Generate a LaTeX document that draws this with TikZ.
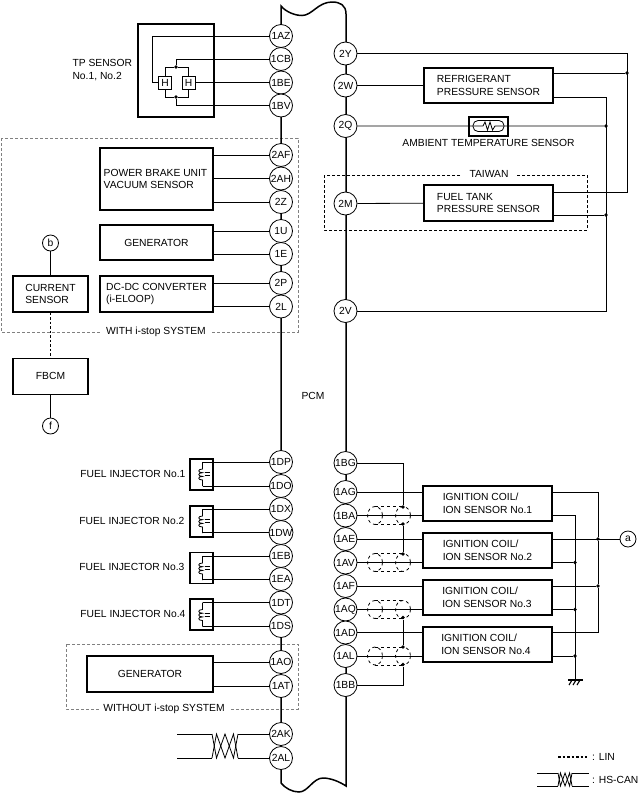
\documentclass[tikz,border=0pt]{standalone}
\usepackage{fontspec}
\setmainfont{Liberation Sans}
\usetikzlibrary{arrows,positioning}

\tikzset{
  every node/.style={font=\fontsize{10.3}{12.5}\selectfont},
  wire/.style={line width=0.8pt},
  pcmline/.style={line width=1.5pt},
  conn/.style={draw, circle, fill=white, line width=0.8pt, minimum size=23pt, inner sep=0pt},
  small_conn/.style={draw, circle, fill=white, line width=0.8pt, minimum size=16pt, inner sep=0pt},
  unit/.style={draw, fill=white, line width=1.3pt, inner sep=0pt, align=left},
  hall/.style={draw, fill=white, line width=0.9pt, minimum width=13pt, minimum height=13pt, inner sep=0pt},
  junction/.style={circle, fill=black, minimum size=3.6pt, inner sep=0pt},
  option_box/.style={line width=0.7pt, dash pattern=on 3pt off 2pt},
  option_label/.style={fill=white, inner xsep=4pt, inner ysep=1pt},
  lin/.style={line width=1.8pt, dash pattern=on 2.5pt off 2pt},
  coil/.pic={
    \draw[wire] (0,0) -- (0,7) .. controls (-5,7) and (-5,10.7) .. (0,10.7)
      .. controls (-5,10.7) and (-5,14.4) .. (0,14.4)
      .. controls (-5,14.4) and (-5,18) .. (0,18) -- (0,24);
    \draw[wire] (2,10.5) -- (7,10.5) (2,13.5) -- (7,13.5);
  },
  shield/.pic={
    \draw[wire, dashed] (0,0) ellipse (7.5 and 9);
    \draw[wire, dashed] (-28,0) ellipse (7.5 and 9);
    \draw[wire, dashed] (-28,-9) -- (0,-9) (-28,9) -- (0,9);
  },
  twist/.pic={
    \draw[wire] (0,0) -- (4.5,24) -- (13,0) -- (21.5,24) -- (26,0);
    \draw[wire] (0,24) -- (4.5,0) -- (13,24) -- (21.5,0) -- (26,24);
  },
  earth/.pic={
    \draw[line width=1.2pt] (-7,0) -- (8,0);
    \draw[line width=1.1pt] (-3,0) -- (-6,5) (1,0) -- (-2,5) (5,0) -- (2,5);
  }
}

\begin{document}
\begin{tikzpicture}[x=1pt,y=-1pt]
    \useasboundingbox (0,0) rectangle (638,793);

    % optional equipment frames
    \draw[option_box, gray] (1,138) rectangle (298,332);
    \node[option_label] at (156,332) (with_label) {WITH i-stop SYSTEM};
    \draw[option_box, gray] (66,644) rectangle (298,709);
    \node[option_label] at (164,709) (without_label) {WITHOUT i-stop SYSTEM};
    \draw[option_box] (324,175) rectangle (587,230);
    \node[fill=white, inner xsep=9pt, inner ysep=1pt] at (489,174) (taiwan_label) {TAIWAN};

    % PCM outline
    \draw[pcmline] (281,783) -- (281,6) .. controls (286,12) and (295,15.5) .. (302,15.5)
      .. controls (312,15.5) and (318,2) .. (332,2) .. controls (340,2) and (346,5) .. (346,14)
      -- (346,786) .. controls (340,782) and (331,778) .. (323,778)
      .. controls (313,778) and (308,792) .. (299,792) .. controls (292,792) and (285,788) .. (281,783);
    \node at (313,396) (pcm_label) {PCM};

    % left connectors
    \node[conn] at (281,36) (p_1az) {1AZ};
    \node[conn] at (281,59) (p_1cb) {1CB};
    \node[conn] at (281,82.5) (p_1be) {1BE};
    \node[conn] at (281,105.5) (p_1bv) {1BV};
    \node[conn] at (281,155) (p_2af) {2AF};
    \node[conn] at (281,178.5) (p_2ah) {2AH};
    \node[conn] at (281,202) (p_2z) {2Z};
    \node[conn] at (281,231) (p_1u) {1U};
    \node[conn] at (281,254) (p_1e) {1E};
    \node[conn] at (281,283) (p_2p) {2P};
    \node[conn] at (281,306.5) (p_2l) {2L};
    \node[conn] at (281,462) (p_1dp) {1DP};
    \node[conn] at (281,486) (p_1do) {1DO};
    \node[conn] at (281,509) (p_1dx) {1DX};
    \node[conn] at (281,532.5) (p_1dw) {1DW};
    \node[conn] at (281,556) (p_1eb) {1EB};
    \node[conn] at (281,579) (p_1ea) {1EA};
    \node[conn] at (281,602.5) (p_1dt) {1DT};
    \node[conn] at (281,626) (p_1ds) {1DS};
    \node[conn] at (281,662) (p_1ao) {1AO};
    \node[conn] at (281,686) (p_1at) {1AT};
    \node[conn] at (281,734) (p_2ak) {2AK};
    \node[conn] at (281,758) (p_2al) {2AL};

    % right connectors
    \node[conn] at (345.5,53.5) (p_2y) {2Y};
    \node[conn] at (345.5,85.5) (p_2w) {2W};
    \node[conn] at (345.5,126) (p_2q) {2Q};
    \node[conn] at (345.5,203.5) (p_2m) {2M};
    \node[conn] at (345.5,311) (p_2v) {2V};
    \node[conn] at (345.5,463) (p_1bg) {1BG};
    \node[conn] at (345.5,492) (p_1ag) {1AG};
    \node[conn] at (345.5,515.5) (p_1ba) {1BA};
    \node[conn] at (345.5,539) (p_1ae) {1AE};
    \node[conn] at (345.5,562.5) (p_1av) {1AV};
    \node[conn] at (345.5,586) (p_1af) {1AF};
    \node[conn] at (345.5,609.5) (p_1aq) {1AQ};
    \node[conn] at (345.5,632.5) (p_1ad) {1AD};
    \node[conn] at (345.5,656) (p_1al) {1AL};
    \node[conn] at (345.5,685) (p_1bb) {1BB};

    % TP sensor
    \node[unit, minimum width=76pt, minimum height=93pt] at (176,70.5) (tp_sensor) {};
    \node[anchor=west, align=left] at (69,70) (tp_label) {TP SENSOR\\[0.5pt]No.1, No.2};
    \node[hall] at (165,82.5) (h_one) {H};
    \node[hall] at (188.5,82.5) (h_two) {H};
    \coordinate (h_corner) at (152,82.5);
    \node[junction] at (176,67) (h_dot_top) {};
    \node[junction] at (176,97) (h_dot_bottom) {};
    \draw[wire] (p_1az) -| (h_corner) -- (h_one);
    \draw[wire] (p_1cb) -| (h_dot_top);
    \draw[wire] (h_two) -- (p_1be);
    \draw[wire] (p_1bv) -| (h_dot_bottom);
    \draw[wire] (h_one) |- (h_dot_top);
    \draw[wire] (h_two) |- (h_dot_top);
    \draw[wire] (h_one) |- (h_dot_bottom);
    \draw[wire] (h_two) |- (h_dot_bottom);

    % units inside the i-stop frame
    \node[unit, minimum width=113pt, minimum height=62pt] at (156.5,179) (brake_unit) {\hspace{-2pt}POWER BRAKE UNIT\\\hspace{-2pt}VACUUM SENSOR};
    \node[unit, minimum width=113pt, minimum height=35pt] at (156.5,242.5) (generator_a) {GENERATOR};
    \node[unit, minimum width=113pt, minimum height=36pt] at (156.5,294) (converter) {DC-DC CONVERTER\\(i-ELOOP)};
    \node[unit, minimum width=75pt, minimum height=36pt] at (50.5,294) (current_sensor) {CURRENT\\SENSOR};
    \node[unit, minimum width=75pt, minimum height=36pt, below=45pt of current_sensor] (fbcm) {FBCM};
    \node[small_conn] at (50.5,243) (b_conn) {b};
    \node[small_conn] at (50.5,426) (f_conn) {f};
    \draw[wire] (brake_unit.east |- p_2af) -- (p_2af);
    \draw[wire] (brake_unit.east |- p_2ah) -- (p_2ah);
    \draw[wire] (brake_unit.east |- p_2z) -- (p_2z);
    \draw[wire] (generator_a.east |- p_1u) -- (p_1u);
    \draw[wire] (generator_a.east |- p_1e) -- (p_1e);
    \draw[wire] (converter.east |- p_2p) -- (p_2p);
    \draw[wire] (converter.east |- p_2l) -- (p_2l);
    \draw[wire] (b_conn) -- (current_sensor);
    \draw[lin] (current_sensor) -- (fbcm);
    \draw[wire] (fbcm) -- (f_conn);

    % fuel injectors
    \node[unit, minimum width=23pt, minimum height=31pt] at (201.5,474.5) (injector_1) {};
    \node[unit, minimum width=23pt, minimum height=31pt] at (201.5,521.5) (injector_2) {};
    \node[unit, minimum width=23pt, minimum height=31pt] at (201.5,568) (injector_3) {};
    \node[unit, minimum width=23pt, minimum height=31pt] at (201.5,614.5) (injector_4) {};
    \node[anchor=east] at (189,474) (injector_1_label) {FUEL INJECTOR No.1};
    \node[anchor=east] at (188,520.5) (injector_2_label) {FUEL INJECTOR No.2};
    \node[anchor=east] at (188,567) (injector_3_label) {FUEL INJECTOR No.3};
    \node[anchor=east] at (189,613.5) (injector_4_label) {FUEL INJECTOR No.4};
    \coordinate (coil_1) at (202.5,462);
    \coordinate (coil_2) at (202.5,509);
    \coordinate (coil_3) at (202.5,556);
    \coordinate (coil_4) at (202.5,602.5);
    \pic at (coil_1) {coil};
    \pic at (coil_2) {coil};
    \pic at (coil_3) {coil};
    \pic at (coil_4) {coil};
    \draw[wire] (coil_1) -- (p_1dp);
    \draw[wire] (coil_1 |- p_1do) -- (p_1do);
    \draw[wire] (coil_2) -- (p_1dx);
    \draw[wire] (coil_2 |- p_1dw) -- (p_1dw);
    \draw[wire] (coil_3) -- (p_1eb);
    \draw[wire] (coil_3 |- p_1ea) -- (p_1ea);
    \draw[wire] (coil_4) -- (p_1dt);
    \draw[wire] (coil_4 |- p_1ds) -- (p_1ds);

    % generator without i-stop
    \node[unit, minimum width=126pt, minimum height=36pt] at (150,674) (generator_b) {GENERATOR};
    \draw[wire] (generator_b.east |- p_1ao) -- (p_1ao);
    \draw[wire] (generator_b.east |- p_1at) -- (p_1at);

    % HS-CAN pair
    \pic at (212,734) {twist};
    \coordinate (can_top_free) at (177,734);
    \coordinate (can_bottom_free) at (177,758);
    \coordinate (can_top_left) at (212,734);
    \coordinate (can_bottom_left) at (212,758);
    \coordinate (can_top_right) at (238,734);
    \coordinate (can_bottom_right) at (238,758);
    \draw[wire] (can_top_free) -- (can_top_left);
    \draw[wire] (can_bottom_free) -- (can_bottom_left);
    \draw[wire] (can_top_right) -- (p_2ak);
    \draw[wire] (can_bottom_right) -- (p_2al);

    % top right sensors
    \node[unit, minimum width=129pt, minimum height=35pt] at (488.5,85.5) (refrigerant) {REFRIGERANT\\PRESSURE SENSOR};
    \node[unit, minimum width=129pt, minimum height=36pt] at (488.5,203) (fuel_tank) {FUEL TANK\\PRESSURE SENSOR};
    \node[unit, minimum width=39pt, minimum height=19pt] at (488.5,126.5) (ambient) {};
    \node at (488.5,143) (ambient_label) {AMBIENT TEMPERATURE SENSOR};
    \draw[wire, rounded corners=5pt] (473,120.5) rectangle (504,131.5);
    \coordinate (zig_left) at (483,126);
    \coordinate (zig_right) at (495,126);
    \node[junction] at (627,73) (dot_refrigerant) {};
    \node[junction] at (606,126) (dot_ambient) {};
    \node[junction] at (606,215) (dot_tank) {};
    \coordinate (corner_2y) at (627,192);
    \coordinate (corner_2v) at (606,97);
    \draw[wire] (p_2y) -| (corner_2y) -- (fuel_tank.east |- corner_2y);
    \draw[wire] (p_2w) -- (refrigerant);
    \draw[wire] (refrigerant.east |- dot_refrigerant) -- (dot_refrigerant);
    \draw[wire] (refrigerant.east |- corner_2v) -- (corner_2v) |- (p_2v);
    \draw[wire] (p_2q) -- (zig_left) -- ++(2,-4) -- ++(2.5,8) -- ++(2.5,-8) -- ++(2.5,8) -- ++(2.5,-4) -- (zig_right) -- (dot_ambient);
    \draw[wire] (p_2m) -- (fuel_tank);
    \draw[wire] (fuel_tank.east |- dot_tank) -- (dot_tank);

    % ignition coils
    \node[unit, minimum width=129pt, minimum height=35pt] at (487.5,503.5) (ign_1) {IGNITION COIL/\\ION SENSOR No.1};
    \node[unit, minimum width=129pt, minimum height=35pt] at (487.5,550.5) (ign_2) {IGNITION COIL/\\ION SENSOR No.2};
    \node[unit, minimum width=129pt, minimum height=35pt] at (487.5,597.5) (ign_3) {\hspace{-1pt}IGNITION COIL/\\\hspace{-1pt}ION SENSOR No.3};
    \node[unit, minimum width=129pt, minimum height=35pt] at (487.5,644.5) (ign_4) {\hspace{-3pt}IGNITION COIL/\\\hspace{-3pt}ION SENSOR No.4};
    \node[small_conn] at (628,539) (a_conn) {a};
    \draw[wire] (p_1ag) -- (ign_1.west |- p_1ag);
    \draw[wire] (p_1ba) -- (ign_1.west |- p_1ba);
    \draw[wire] (p_1ae) -- (ign_2.west |- p_1ae);
    \draw[wire] (p_1av) -- (ign_2.west |- p_1av);
    \draw[wire] (p_1af) -- (ign_3.west |- p_1af);
    \draw[wire] (p_1aq) -- (ign_3.west |- p_1aq);
    \draw[wire] (p_1ad) -- (ign_4.west |- p_1ad);
    \draw[wire] (p_1al) -- (ign_4.west |- p_1al);

    % shields
    \pic at (403,515.5) {shield};
    \pic at (403,562.5) {shield};
    \pic at (403,609.5) {shield};
    \pic at (403,656) {shield};
    \node[junction] at (403,507) (shield_dot_1) {};
    \node[junction] at (403,524) (shield_dot_2) {};
    \node[junction] at (403,554) (shield_dot_3) {};
    \node[junction] at (403,617.5) (shield_dot_4) {};
    \node[junction] at (403,647) (shield_dot_5) {};
    \node[junction] at (403,664.5) (shield_dot_6) {};
    \draw[wire] (p_1bg) -| (shield_dot_1);
    \draw[wire] (shield_dot_2) -- (shield_dot_3);
    \draw[wire] (shield_dot_4) -- (shield_dot_5);
    \draw[wire] (shield_dot_6) |- (p_1bb);

    % coil supply bus
    \node[junction] at (598,539) (bus_dot_2) {};
    \node[junction] at (598,586) (bus_dot_3) {};
    \draw[wire] (ign_1.east |- p_1ag) -| (bus_dot_2);
    \draw[wire] (ign_2.east |- a_conn) -- (a_conn);
    \draw[wire] (ign_3.east |- bus_dot_3) -- (bus_dot_3);
    \draw[wire] (ign_4.east |- p_1ad) -| (bus_dot_3);
    \draw[wire] (bus_dot_2) -- (bus_dot_3);

    % earth bus
    \coordinate (earth_point) at (575,680);
    \node[junction] at (575,562.5) (earth_dot_2) {};
    \node[junction] at (575,609.5) (earth_dot_3) {};
    \node[junction] at (575,656) (earth_dot_4) {};
    \draw[wire] (ign_1.east |- p_1ba) -| (earth_point);
    \draw[wire] (ign_2.east |- earth_dot_2) -- (earth_dot_2);
    \draw[wire] (ign_3.east |- earth_dot_3) -- (earth_dot_3);
    \draw[wire] (ign_4.east |- earth_dot_4) -- (earth_dot_4);
    \pic at (earth_point) {earth};

    % legend
    \coordinate (lin_left) at (558,757);
    \coordinate (lin_right) at (587,757);
    \node[anchor=west, inner sep=0pt] at (592,757) (lin_label) {: LIN};
    \draw[lin, line width=1.1pt] (lin_left) -- (lin_right);
    \node[anchor=west, inner sep=0pt] at (592,779.5) (can_label) {: HS-CAN};
    \pic[xscale=0.54,yscale=0.54] at (558,773) {twist};
    \coordinate (legend_top_left) at (537,773);
    \coordinate (legend_bottom_left) at (537,786);
    \coordinate (legend_top_mid) at (558,773);
    \coordinate (legend_bottom_mid) at (558,786);
    \coordinate (legend_top_right) at (572,773);
    \coordinate (legend_bottom_right) at (572,786);
    \coordinate (legend_top_end) at (589,773);
    \coordinate (legend_bottom_end) at (589,786);
    \draw[wire] (legend_top_left) -- (legend_top_mid);
    \draw[wire] (legend_bottom_left) -- (legend_bottom_mid);
    \draw[wire] (legend_top_right) -- (legend_top_end);
    \draw[wire] (legend_bottom_right) -- (legend_bottom_end);

\end{tikzpicture}
\end{document}
